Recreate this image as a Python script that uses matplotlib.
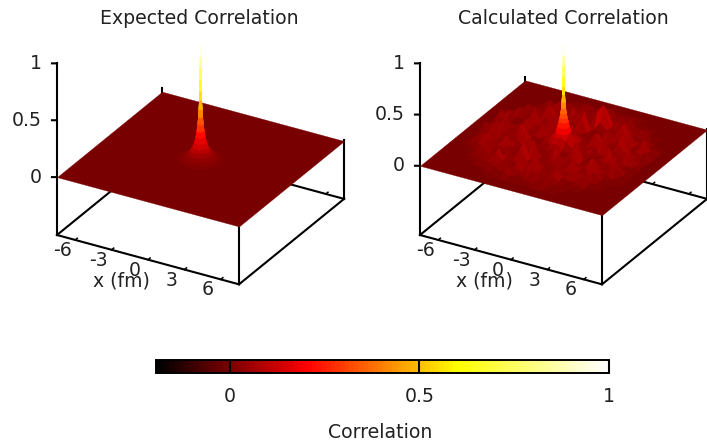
import numpy as np
import matplotlib
matplotlib.use("Agg")
import matplotlib.pyplot as plt
from matplotlib.colors import LinearSegmentedColormap, Normalize
from matplotlib.cm import ScalarMappable
from mpl_toolkits.mplot3d import proj3d

titles = ["Expected Correlation", "Calculated Correlation"]
colorbar_label = "Correlation"
x_axis_label = "x (fm)"
x_ticks = [-6, -3, 0, 3, 6]
z_ticks = [0, 0.5, 1]
z_tick_labels = ["0", "0.5", "1"]
cbar_ticks = [0, 0.5, 1]
cbar_tick_labels = ["0", "0.5", "1"]
cbar_range = (-0.195, 1.0)
axis_half_range = 7.5

# radial profiles of the central correlation peak
expected_r = [0.0, 0.03, 0.045, 0.06, 0.075, 0.09, 0.12, 0.16, 0.2, 0.26, 0.33, 0.42, 0.55, 0.7, 0.9, 1.1, 1.35, 1.6]
expected_peak = [1.0, 0.9, 0.8, 0.7, 0.6, 0.52, 0.44, 0.37, 0.31, 0.25, 0.2, 0.15, 0.11, 0.08, 0.05, 0.03, 0.012, 0.0]
calculated_r = [0.0, 0.03, 0.045, 0.06, 0.075, 0.09, 0.12, 0.16, 0.2, 0.26, 0.33, 0.42, 0.55]
calculated_peak = [1.0, 0.9, 0.8, 0.7, 0.6, 0.52, 0.45, 0.39, 0.34, 0.3, 0.26, 0.21, 0.16]

# calculated noise on a 0.5 fm grid, in units of 0.02 (hex digits), rows from y=-6.5 to y=+6.5
noise_step = 0.5
noise_rows = [
    "0",
    "10312010401",
    "1203210510211",
    "31214121612131102",
    "1215210712131521140",
    "213161214181102152311",
    "120214171212161213151",
    "31521120812141217120311",
    "2161213110912151213181202",
    "1311261214110713211611251",
    "2171213151214111921214131",
    "1214121812144216110315210",
    "3151217110256521411181211",
    "214121612134898421511131712",
    "2161213171356521218131511",
    "1311261204112431711151214",
    "5110312171214110612190213",
    "1411181213151212161411172",
    "2151213161217110413181202",
    "21141712120911131611141",
    "312151216110413171211",
    "110413161217b05110412",
    "1215110413171216120",
    "31214121511131102",
    "1203110412110",
    "10211030112",
    "0",
]

plt.rcParams["font.family"] = "DejaVu Sans"
TEXT = "#222222"
FS = 13.6
W, H = 707, 441

cmap = LinearSegmentedColormap.from_list(
    "gnu_hot", [(0, "#000000"), (1 / 3, "#ff0000"), (2 / 3, "#ffff00"), (1, "#ffffff")], N=96)
norm = Normalize(*cbar_range)

fig = plt.figure(figsize=(W / 100, H / 100), dpi=100, facecolor="white")


def px(ax, x, y, z):
    xs, ys, _ = proj3d.proj_transform(x, y, z, ax.get_proj())
    return ax.transData.transform((xs, ys))


def panel(left_px, front_px, zmin, peak_r, peak, noise, title, title_x):
    ax = fig.add_axes([0.2, 0.1, 0.6, 0.6 * W / H], projection="3d", proj_type="ortho")
    ax.computed_zorder = False
    ax.set_axis_off()
    a = axis_half_range
    ax.set_xlim(-a, a, view_margin=0)
    ax.set_ylim(-a, a, view_margin=0)
    ax.set_zlim(zmin, 1, view_margin=0)
    ax.set_xticks([])
    ax.set_yticks([])
    ax.set_zticks([])
    ax.view_init(elev=28, azim=-60)
    ax.set_box_aspect((1, 1, 0.925))

    # scale and move so the box corners land where the reference has them
    fig.canvas.draw()
    p0 = px(ax, -a, -a, zmin)
    p1 = px(ax, a, -a, zmin)
    t0 = np.array([left_px[0], H - left_px[1]], float)
    t1 = np.array([front_px[0], H - front_px[1]], float)
    s = (t1[0] - t0[0]) / (p1[0] - p0[0])
    pos = ax.get_position(original=True)
    ax.set_position([pos.x0, pos.y0, pos.width * s, pos.height * s])
    fig.canvas.draw()
    p0 = px(ax, -a, -a, zmin)
    d = t0 - p0
    pos = ax.get_position(original=True)
    ax.set_position([pos.x0 + d[0] / W, pos.y0 + d[1] / H, pos.width, pos.height])
    fig.canvas.draw()

    def label(x, y, z, s, ha="center"):
        p = px(ax, x, y, z)
        fig.text(p[0] / W, p[1] / H, s, ha=ha, va="center", fontsize=FS, color=TEXT)

    line = dict(color="black", lw=1.5, solid_capstyle="projecting", zorder=1, clip_on=False)
    thin = dict(line, lw=1.1)
    # base of the box
    ax.plot([-a, a], [-a, -a], [zmin, zmin], **line)
    ax.plot([a, a], [-a, a], [zmin, zmin], **line)
    ax.plot([a, -a], [a, a], [zmin, zmin], **line)
    ax.plot([-a, -a], [a, -a], [zmin, zmin], **line)
    # verticals
    ax.plot([-a, -a], [-a, -a], [zmin, 1], **line)
    ax.plot([a, a], [-a, -a], [zmin, 0], **line)
    ax.plot([a, a], [a, a], [zmin, 0.01], **line)
    ax.plot([-a, -a], [a, a], [zmin, 0.035], **line)

    # x ticks, both edges
    for t in x_ticks:
        ax.plot([t, t], [-a, -a + 0.3], [zmin, zmin], **thin)
        ax.plot([t, t], [a, a + 0.3], [zmin, zmin], **thin)
        label(t, -a - 1.85, zmin, str(t))
    label(0, -a - 3.75, zmin, x_axis_label)

    # z ticks
    for z, lab in zip(z_ticks, z_tick_labels):
        ax.plot([-a, -a - 0.31], [-a, -a - 0.18], [z, z], **line)
        label(-a - 0.93, -a - 0.53, z, lab, ha="right")

    surf = dict(cmap=cmap, norm=norm, shade=False, rstride=1, cstride=1,
                linewidth=0.25, antialiased=True, clip_on=False)

    def add_surface(X, Y, Z, zorder):
        s = ax.plot_surface(X, Y, Z, zorder=zorder, **surf)
        s.set_edgecolor("face")
        return s

    # flat plane
    gx = np.array([-a, a])
    X, Y = np.meshgrid(gx, gx)
    add_surface(X, Y, np.zeros_like(X), 2)

    # noise
    if noise is not None:
        n = len(noise)
        g = (np.arange(n) - n // 2) * noise_step
        X, Y = np.meshgrid(g, g)
        add_surface(X, Y, noise, 3)

    # central peak, revolved from its radial profile
    theta = np.radians(np.arange(0, 361, 20))
    R, T = np.meshgrid(np.array(peak_r), theta)
    Z = np.tile(np.array(peak), (len(theta), 1))
    add_surface(R * np.cos(T), R * np.sin(T), Z, 4)

    fig.text(title_x / W, 1 - 18 / H, title, ha="center", va="center", fontsize=FS, color=TEXT)
    return ax


noise_grid = np.array([[int(c, 16) * 0.02 for c in r.center(27, "0")] for r in noise_rows])

panel((57, 235), (239, 284), -0.509, expected_r, expected_peak, None, titles[0], 199.5)
panel((420, 235), (602, 284), -0.676, calculated_r, calculated_peak, noise_grid, titles[1], 563)

cax = fig.add_axes([156 / W, 1 - 373 / H, 453 / W, 13 / H])
cb = fig.colorbar(ScalarMappable(norm=norm, cmap=cmap), cax=cax, orientation="horizontal", ticks=cbar_ticks)
cb.ax.set_xticklabels(cbar_tick_labels)
cb.ax.tick_params(axis="x", direction="in", length=9.4, width=1.5, color="black",
                  pad=10, labelsize=FS, labelcolor=TEXT)
cb.outline.set_linewidth(1.4)
cb.outline.set_edgecolor("black")
fig.text(380.5 / W, 1 - 432 / H, colorbar_label, ha="center", va="center", fontsize=FS, color=TEXT)

fig.savefig("out.png", dpi=100)
